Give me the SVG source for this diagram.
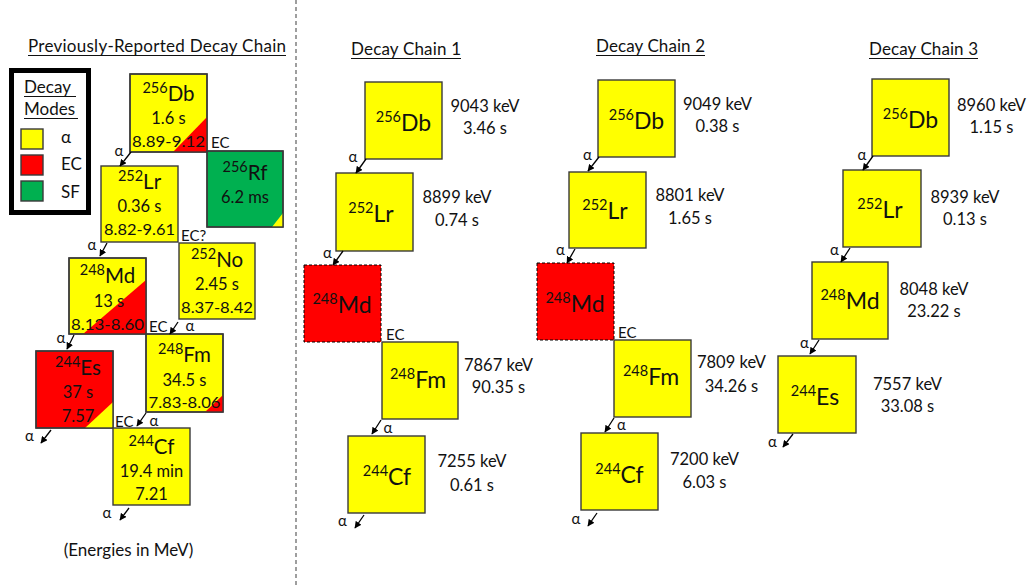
<svg xmlns="http://www.w3.org/2000/svg" width="1028" height="585" viewBox="0 0 1028 585">
<style>
text{font-family:Lato,"Liberation Sans",sans-serif;fill:#111}
.ttl{font-size:17px}
.sym{font-size:23px;text-anchor:middle}
.syml{font-size:20.5px;text-anchor:middle}
.sup{font-size:14.5px}
.v{font-size:16.5px;text-anchor:middle}
.rng{font-size:15px;text-anchor:middle}
.lb{font-size:15px}
.a{font-size:15px;text-anchor:middle}
.box{stroke:#3a3a3a;stroke-width:1.4}
.dbox{stroke:#000;stroke-width:1;stroke-dasharray:3 2}
.y{fill:#FFFF00}.r{fill:#FF0000}.g{fill:#00B050}
.ul{stroke:#111;stroke-width:1.2}
.arr{stroke:#000;stroke-width:1.3;fill:none;marker-end:url(#ah)}
</style>
<defs>
<marker id="ah" viewBox="0 0 10 10" refX="9" refY="5" markerWidth="7" markerHeight="7" markerUnits="userSpaceOnUse" orient="auto"><path d="M0,0 L10,5 L0,10 z" fill="#000"/></marker>
</defs>
<rect width="1028" height="585" fill="#fff"/>
<line x1="296" y1="0" x2="296" y2="585" stroke="#7f7f7f" stroke-width="1.5" stroke-dasharray="4 3"/>

<g id="titles">
<text class="ttl" x="157" y="52" text-anchor="middle" textLength="258">Previously-Reported Decay Chain</text>
<line class="ul" x1="28" y1="55.5" x2="286" y2="55.5"/>
<text class="ttl" x="406" y="55" text-anchor="middle" textLength="110">Decay Chain 1</text>
<line class="ul" x1="351" y1="58.5" x2="461" y2="58.5"/>
<text class="ttl" x="650.5" y="52" text-anchor="middle" textLength="109">Decay Chain 2</text>
<line class="ul" x1="596" y1="55.5" x2="705" y2="55.5"/>
<text class="ttl" x="923.5" y="55" text-anchor="middle" textLength="109">Decay Chain 3</text>
<line class="ul" x1="869" y1="58.5" x2="978" y2="58.5"/>
<text class="ttl" x="128.5" y="556" text-anchor="middle">(Energies in MeV)</text>
</g>

<g id="legend">
<rect x="11.5" y="70.5" width="77" height="142" fill="#fff" stroke="#000" stroke-width="5"/>
<text class="ttl" x="24" y="93">Decay</text>
<line class="ul" x1="24" y1="96.5" x2="76" y2="96.5"/>
<text class="ttl" x="24" y="115">Modes</text>
<line class="ul" x1="24" y1="118.5" x2="78" y2="118.5"/>
<rect class="box y" x="21" y="129" width="22" height="20"/>
<rect class="box r" x="21" y="155" width="22" height="20"/>
<rect class="box g" x="21" y="181" width="22" height="20"/>
<text class="ttl" x="61" y="143">α</text>
<text class="ttl" x="61" y="170">EC</text>
<text class="ttl" x="61" y="198">SF</text>
</g>

<g id="prev-Db256">
<rect class="box y" x="130" y="74" width="77" height="78"/>
<polygon class="r" points="173,152 207,152 207,117"/>
<rect x="130" y="74" width="77" height="78" fill="none" class="box"/>
<text class="syml" x="168.5" y="101"><tspan class="sup" dy="-8">256</tspan><tspan dy="8">Db</tspan></text>
<text class="v" x="168.5" y="124">1.6 s</text>
<text class="rng" x="168.5" y="147" textLength="73" lengthAdjust="spacingAndGlyphs">8.89-9.12</text>
</g>
<g id="prev-Rf256">
<rect class="box g" x="207" y="151" width="76" height="76"/>
<polygon class="y" points="272,227 283,227 283,213"/>
<rect x="207" y="151" width="76" height="76" fill="none" class="box"/>
<text class="syml" x="245" y="180"><tspan class="sup" dy="-8">256</tspan><tspan dy="8">Rf</tspan></text>
<text class="v" x="245" y="203">6.2 ms</text>
</g>
<g id="prev-Lr252">
<rect class="box y" x="101" y="166" width="77" height="76"/>
<text class="syml" x="139.5" y="189"><tspan class="sup" dy="-8">252</tspan><tspan dy="8">Lr</tspan></text>
<text class="v" x="139.5" y="212">0.36 s</text>
<text class="rng" x="139.5" y="235" textLength="71" lengthAdjust="spacingAndGlyphs">8.82-9.61</text>
</g>
<g id="prev-No252">
<rect class="box y" x="179" y="243" width="76" height="76"/>
<text class="syml" x="217" y="267"><tspan class="sup" dy="-8">252</tspan><tspan dy="8">No</tspan></text>
<text class="v" x="217" y="290">2.45 s</text>
<text class="rng" x="217" y="313" textLength="72" lengthAdjust="spacingAndGlyphs">8.37-8.42</text>
</g>
<g id="prev-Md248">
<rect class="box y" x="69" y="258" width="77" height="76"/>
<polygon class="r" points="83,334 146,334 146,280"/>
<rect x="69" y="258" width="77" height="76" fill="none" class="box"/>
<text class="syml" x="107.5" y="283"><tspan class="sup" dy="-8">248</tspan><tspan dy="8">Md</tspan></text>
<text class="v" x="109" y="307">13 s</text>
<text class="rng" x="107.5" y="330" textLength="73" lengthAdjust="spacingAndGlyphs">8.13-8.60</text>
</g>
<g id="prev-Fm248">
<rect class="box y" x="146" y="334" width="77" height="78"/>
<polygon class="r" points="205,412 223,412 223,395"/>
<rect x="146" y="334" width="77" height="78" fill="none" class="box"/>
<text class="syml" x="184.5" y="362"><tspan class="sup" dy="-8">248</tspan><tspan dy="8">Fm</tspan></text>
<text class="v" x="184.5" y="386">34.5 s</text>
<text class="rng" x="184.5" y="408" textLength="72" lengthAdjust="spacingAndGlyphs">7.83-8.06</text>
</g>
<g id="prev-Es244">
<rect class="box r" x="36" y="351" width="77" height="77"/>
<polygon class="y" points="85,428 113,428 113,402"/>
<rect x="36" y="351" width="77" height="77" fill="none" class="box"/>
<text class="syml" x="78" y="375"><tspan class="sup" dy="-8">244</tspan><tspan dy="8">Es</tspan></text>
<text class="v" x="78" y="398">37 s</text>
<text class="v" x="78" y="422">7.57</text>
</g>
<g id="prev-Cf244">
<rect class="box y" x="113" y="428" width="77" height="77"/>
<text class="syml" x="151.5" y="454"><tspan class="sup" dy="-8">244</tspan><tspan dy="8">Cf</tspan></text>
<text class="v" x="151.5" y="477">19.4 min</text>
<text class="v" x="151.5" y="500">7.21</text>
</g>

<g id="c1-Db256">
<rect class="box y" x="365" y="82" width="77" height="77"/>
<text class="sym" x="403.5" y="131"><tspan class="sup" dy="-9">256</tspan><tspan dy="9">Db</tspan></text>
<text class="v" x="485" y="112">9043 keV</text>
<text class="v" x="485" y="134">3.46 s</text>
</g>
<g id="c1-Lr252">
<rect class="box y" x="336" y="173" width="77" height="78"/>
<text class="sym" x="371" y="222"><tspan class="sup" dy="-9">252</tspan><tspan dy="9">Lr</tspan></text>
<text class="v" x="457" y="203">8899 keV</text>
<text class="v" x="457" y="226">0.74 s</text>
</g>
<g id="c1-Md248">
<rect class="r dbox" x="304" y="265" width="77" height="77"/>
<text class="sym" x="342" y="313"><tspan class="sup" dy="-9">248</tspan><tspan dy="9">Md</tspan></text>
</g>
<g id="c1-Fm248">
<rect class="box y" x="382" y="342" width="76" height="77"/>
<text class="sym" x="418" y="388"><tspan class="sup" dy="-9">248</tspan><tspan dy="9">Fm</tspan></text>
<text class="v" x="498.5" y="371">7867 keV</text>
<text class="v" x="498.5" y="393">90.35 s</text>
</g>
<g id="c1-Cf244">
<rect class="box y" x="348" y="436" width="77" height="77"/>
<text class="sym" x="387" y="485"><tspan class="sup" dy="-9">244</tspan><tspan dy="9">Cf</tspan></text>
<text class="v" x="472" y="467">7255 keV</text>
<text class="v" x="472" y="491">0.61 s</text>
</g>

<g id="c2-Db256">
<rect class="box y" x="598" y="80" width="77" height="77"/>
<text class="sym" x="636.5" y="129"><tspan class="sup" dy="-9">256</tspan><tspan dy="9">Db</tspan></text>
<text class="v" x="717.5" y="110">9049 keV</text>
<text class="v" x="717.5" y="132">0.38 s</text>
</g>
<g id="c2-Lr252">
<rect class="box y" x="569" y="172" width="77" height="76"/>
<text class="sym" x="605" y="219"><tspan class="sup" dy="-9">252</tspan><tspan dy="9">Lr</tspan></text>
<text class="v" x="690" y="201">8801 keV</text>
<text class="v" x="690" y="224">1.65 s</text>
</g>
<g id="c2-Md248">
<rect class="r dbox" x="537" y="263" width="77" height="77"/>
<text class="sym" x="575" y="312"><tspan class="sup" dy="-9">248</tspan><tspan dy="9">Md</tspan></text>
</g>
<g id="c2-Fm248">
<rect class="box y" x="614" y="340" width="77" height="77"/>
<text class="sym" x="651" y="385"><tspan class="sup" dy="-9">248</tspan><tspan dy="9">Fm</tspan></text>
<text class="v" x="731.5" y="368">7809 keV</text>
<text class="v" x="731.5" y="392">34.26 s</text>
</g>
<g id="c2-Cf244">
<rect class="box y" x="581" y="433" width="77" height="77"/>
<text class="sym" x="619.5" y="483"><tspan class="sup" dy="-9">244</tspan><tspan dy="9">Cf</tspan></text>
<text class="v" x="704.5" y="465">7200 keV</text>
<text class="v" x="704.5" y="488">6.03 s</text>
</g>

<g id="c3-Db256">
<rect class="box y" x="872" y="79" width="77" height="77"/>
<text class="sym" x="910.5" y="128"><tspan class="sup" dy="-9">256</tspan><tspan dy="9">Db</tspan></text>
<text class="v" x="991.5" y="111">8960 keV</text>
<text class="v" x="991.5" y="133">1.15 s</text>
</g>
<g id="c3-Lr252">
<rect class="box y" x="843" y="170" width="78" height="77"/>
<text class="sym" x="880" y="218"><tspan class="sup" dy="-9">252</tspan><tspan dy="9">Lr</tspan></text>
<text class="v" x="965" y="203">8939 keV</text>
<text class="v" x="965" y="225">0.13 s</text>
</g>
<g id="c3-Md248">
<rect class="box y" x="812" y="262" width="76" height="77"/>
<text class="sym" x="850" y="309"><tspan class="sup" dy="-9">248</tspan><tspan dy="9">Md</tspan></text>
<text class="v" x="934" y="295">8048 keV</text>
<text class="v" x="934" y="317">23.22 s</text>
</g>
<g id="c3-Es244">
<rect class="box y" x="778" y="356" width="78" height="77"/>
<text class="sym" x="815" y="405"><tspan class="sup" dy="-9">244</tspan><tspan dy="9">Es</tspan></text>
<text class="v" x="907.5" y="390">7557 keV</text>
<text class="v" x="907.5" y="412">33.08 s</text>
</g>

<g id="connectors">
<line class="arr" x1="131" y1="152" x2="120" y2="166"/>
<text class="a" x="119" y="156">α</text>
<text class="lb" x="211" y="148">EC</text>
<line class="arr" x1="107" y1="243" x2="100" y2="256"/>
<text class="a" x="92" y="250">α</text>
<text class="lb" x="181" y="241">EC?</text>
<line class="arr" x1="74" y1="335" x2="67" y2="349"/>
<text class="a" x="61" y="343">α</text>
<text class="lb" x="149" y="332">EC</text>
<line class="arr" x1="178" y1="322" x2="170" y2="334"/>
<text class="a" x="190" y="331">α</text>
<line class="arr" x1="146" y1="413" x2="137" y2="426"/>
<text class="a" x="154" y="426">α</text>
<text class="lb" x="115" y="427">EC</text>
<line class="arr" x1="51" y1="430" x2="41" y2="443"/>
<text class="a" x="29.5" y="441">α</text>
<line class="arr" x1="129" y1="508" x2="120" y2="520"/>
<text class="a" x="107" y="518">α</text>

<line class="arr" x1="366" y1="159" x2="356" y2="173"/>
<text class="a" x="353" y="162">α</text>
<line class="arr" x1="343" y1="251" x2="333" y2="265"/>
<text class="a" x="327.5" y="258">α</text>
<text class="lb" x="386" y="340">EC</text>
<line class="arr" x1="381" y1="420" x2="372" y2="434"/>
<text class="a" x="388" y="433">α</text>
<line class="arr" x1="364" y1="515" x2="355" y2="528"/>
<text class="a" x="342.5" y="526">α</text>

<line class="arr" x1="599" y1="157" x2="588" y2="171"/>
<text class="a" x="587.5" y="160">α</text>
<line class="arr" x1="575" y1="249" x2="567" y2="263"/>
<text class="a" x="560.5" y="255">α</text>
<text class="lb" x="618" y="338">EC</text>
<line class="arr" x1="614" y1="418" x2="605" y2="432"/>
<text class="a" x="621.5" y="430">α</text>
<line class="arr" x1="597" y1="513" x2="588" y2="526"/>
<text class="a" x="576" y="524">α</text>

<line class="arr" x1="873" y1="156" x2="863" y2="170"/>
<text class="a" x="862" y="160">α</text>
<line class="arr" x1="850" y1="248" x2="841" y2="262"/>
<text class="a" x="834.5" y="255">α</text>
<line class="arr" x1="819" y1="340" x2="810" y2="354"/>
<text class="a" x="804.5" y="348">α</text>
<line class="arr" x1="793" y1="434" x2="783" y2="447"/>
<text class="a" x="772.5" y="447">α</text>
</g>
</svg>
